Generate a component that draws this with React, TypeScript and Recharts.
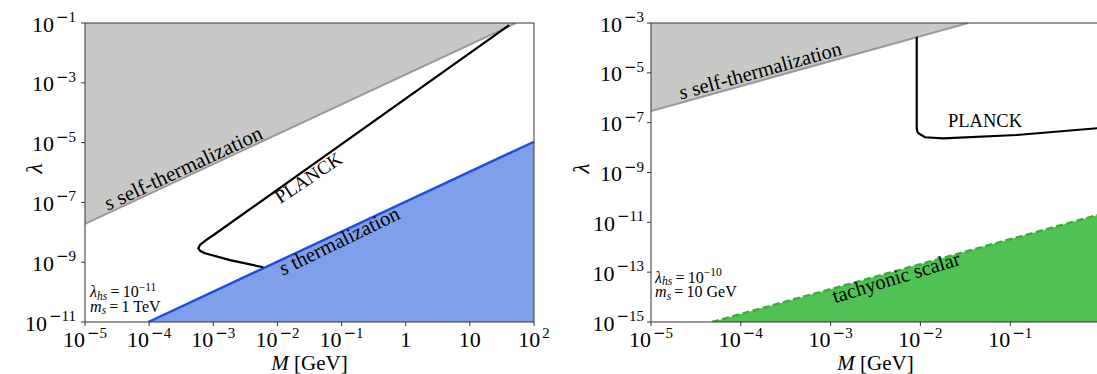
import React from 'react';
import { ComposedChart, Area, Line, XAxis, YAxis, ReferenceLine, ReferenceDot, Label } from 'recharts';

const FONT = '"Liberation Serif", "DejaVu Serif", serif';
const MINUS_FONT = '"DejaVu Serif", serif';
const MINUS = '\u2212';

// left panel: lambda_hs = 1e-11, m_s = 1 TeV
const leftXTicks = [1e-5, 1e-4, 1e-3, 1e-2, 1e-1, 1, 10, 100];
const leftYTicks = [1e-11, 1e-9, 1e-7, 1e-5, 1e-3, 1e-1];
const leftSelfM = [1e-5, 52.5];
const leftSelfLam = [1.9e-8, 1e-1];
const leftThermM = [9.7e-5, 100];
const leftThermLam = [1e-11, 1.07e-5];
const leftPlanckM = [41, 1.05e-3, 7.6e-4, 6.2e-4, 5.85e-4, 6.3e-4, 7.43e-4, 1.82e-3, 6.03e-3];
const leftPlanckLam = [8.5e-2, 8.6e-9, 5.4e-9, 3.76e-9, 2.92e-9, 2.35e-9, 2.0e-9, 1.17e-9, 6.76e-10];

// right panel: lambda_hs = 1e-10, m_s = 10 GeV
const rightXTicks = [1e-5, 1e-4, 1e-3, 1e-2, 1e-1];
const rightYTicks = [1e-15, 1e-13, 1e-11, 1e-9, 1e-7, 1e-5, 1e-3];
const rightSelfM = [1e-5, 0.0339];
const rightSelfLam = [2.95e-7, 1e-3];
const rightTachM = [4.8e-5, 1];
const rightTachLam = [1e-15, 2.1e-11];
const rightPlanckM = [9.1e-3, 9.1e-3, 9.2e-3, 9.5e-3, 0.01125, 0.018, 0.118, 1];
const rightPlanckLam = [2.8e-4, 6.9e-8, 4.6e-8, 3.75e-8, 2.59e-8, 2.36e-8, 3.2e-8, 6.1e-8];

const zip = (xs: number[], ys: number[]) => xs.map((x, i) => ({ x, y: ys[i] }));

function powParts(v: number, plainSmall: boolean) {
  const e = Math.round(Math.log10(v));
  if (plainSmall && e === 0) return { base: '1', neg: false, exp: '' };
  if (plainSmall && e === 1) return { base: '10', neg: false, exp: '' };
  return { base: '10', neg: e < 0, exp: String(Math.abs(e)) };
}

// 10^n with a math-style superscript
const powSpans = (v: number, plainSmall: boolean) => {
  const { base, neg, exp } = powParts(v, plainSmall);
  return (
    <>
      <tspan fontSize={22}>{base}</tspan>
      {exp && neg && <tspan fontSize={15} dx={2} dy={-9.5} fontFamily={MINUS_FONT}>{MINUS}</tspan>}
      {exp && <tspan fontSize={15} dx={neg ? 0 : 2} dy={neg ? 0 : -9.5}>{exp}</tspan>}
    </>
  );
};

const makeXTick = (plainSmall: boolean) => (props: any) => {
  const { x, y, payload } = props;
  return (
    <text x={x} y={y + 19} textAnchor="middle" fontFamily={FONT} fill="#000">
      {powSpans(payload.value, plainSmall)}
    </text>
  );
};

const makeYTick = (shift: number) => (props: any) => {
  const { x, y, payload } = props;
  return (
    <text x={x + shift} y={y + 8.5} textAnchor="end" fontFamily={FONT} fill="#000">
      {powSpans(payload.value, false)}
    </text>
  );
};

const note = (content: React.ReactNode, angle: number, size = 20, anchor = 'middle') => (props: any) => {
  const vb = props.viewBox;
  return (
    <text
      transform={`translate(${vb.x},${vb.y}) rotate(${angle})`}
      textAnchor={anchor}
      fontFamily={FONT}
      fontSize={size}
      fill="#000"
    >
      {content}
    </text>
  );
};

const paramNote = (lam: string, ms: string) => (props: any) => {
  const vb = props.viewBox;
  return (
    <g fontFamily={FONT} fontSize={16} fill="#000">
      <text x={vb.x} y={vb.y}>
        <tspan fontStyle="italic">λ</tspan>
        <tspan fontStyle="italic" fontSize={11.5} dy={2.5}>hs</tspan>
        <tspan dy={-2.5}>{'\u2009=\u200910'}</tspan>
        <tspan fontSize={11.5} dy={-6.5}>{lam}</tspan>
      </text>
      <text x={vb.x} y={vb.y + 14.5}>
        <tspan fontStyle="italic">m</tspan>
        <tspan fontStyle="italic" fontSize={11.5} dy={2.5}>s</tspan>
        <tspan dy={-2.5}>{'\u2009=\u2009' + ms}</tspan>
      </text>
    </g>
  );
};

const xTitle = (props: any) => {
  const vb = props.viewBox;
  return (
    <text x={vb.x + vb.width / 2} y={vb.y + 48} textAnchor="middle" fontFamily={FONT} fontSize={21} fill="#000">
      <tspan fontStyle="italic">M</tspan>
      <tspan> [GeV]</tspan>
    </text>
  );
};

const yTitle = (offset: number) => (props: any) => {
  const vb = props.viewBox;
  return (
    <text
      transform={`translate(${vb.x + offset},${vb.y + vb.height / 2 - 4}) rotate(-90)`}
      textAnchor="middle"
      fontFamily={FONT}
      fontSize={23}
      fontStyle="italic"
      fill="#000"
    >
      λ
    </text>
  );
};

const AXIS = '#333';

export default function App() {
  return (
    <div style={{ position: 'absolute', left: 0, top: 0, width: 1097, height: 374, overflow: 'hidden', background: '#fff' }}>
      <div style={{ position: 'absolute', left: 0, top: 0 }}>
        <ComposedChart width={560} height={374} margin={{ top: 23, right: 26, bottom: 0, left: 0 }}>
          <XAxis
            dataKey="x"
            type="number"
            scale="log"
            domain={[1e-5, 100]}
            allowDataOverflow
            ticks={leftXTicks}
            interval={0}
            height={52}
            tickSize={4}
            tickMargin={2}
            stroke={AXIS}
            tick={makeXTick(true)}
          >
            <Label content={xTitle} />
          </XAxis>
          <YAxis
            type="number"
            scale="log"
            domain={[1e-11, 1e-1]}
            allowDataOverflow
            ticks={leftYTicks}
            interval={0}
            width={85}
            tickSize={4}
            tickMargin={2}
            stroke={AXIS}
            tick={makeYTick(-3)}
          >
            <Label content={yTitle(42)} />
          </YAxis>
          <Area data={zip(leftSelfM, leftSelfLam)} dataKey="y" type="linear" baseValue={1e-1} stroke="#999999" strokeWidth={2} fill="#c8c9c7" fillOpacity={1} isAnimationActive={false} dot={false} activeDot={false} />
          <Area data={zip(leftThermM, leftThermLam)} dataKey="y" type="linear" baseValue={1e-11} stroke="#1b4fdc" strokeWidth={2.4} fill="#7f9feb" fillOpacity={1} isAnimationActive={false} dot={false} activeDot={false} />
          <Line data={zip(leftPlanckM, leftPlanckLam)} dataKey="y" type="linear" stroke="#000" strokeWidth={2.2} dot={false} activeDot={false} isAnimationActive={false} />
          <ReferenceLine y={1e-1} stroke={AXIS} strokeWidth={1} />
          <ReferenceLine x={100} stroke={AXIS} strokeWidth={1} />
          <ReferenceDot x={3.76e-4} y={8.6e-7} r={0} fill="none" stroke="none"
            label={note(<><tspan fontStyle="italic">s</tspan><tspan> self-thermalization</tspan></>, -25, 21)} />
          <ReferenceDot x={0.0346} y={4.46e-7} r={0} fill="none" stroke="none" label={note('PLANCK', -33.5, 19)} />
          <ReferenceDot x={0.1016} y={3.22e-9} r={0} fill="none" stroke="none"
            label={note(<><tspan fontStyle="italic">s</tspan><tspan> thermalization</tspan></>, -26, 20.5)} />
          <ReferenceDot x={1.2e-5} y={6.6e-11} r={0} fill="none" stroke="none" label={paramNote(MINUS + '11', '1 TeV')} />
        </ComposedChart>
      </div>
      <div style={{ position: 'absolute', left: 560, top: 0 }}>
        <ComposedChart width={560} height={374} margin={{ top: 23, right: 20, bottom: 0, left: 0 }}>
          <XAxis
            dataKey="x"
            type="number"
            scale="log"
            domain={[1e-5, 1]}
            allowDataOverflow
            ticks={rightXTicks}
            interval={0}
            height={52}
            tickSize={4}
            tickMargin={2}
            stroke={AXIS}
            tick={makeXTick(false)}
          >
            <Label content={xTitle} />
          </XAxis>
          <YAxis
            type="number"
            scale="log"
            domain={[1e-15, 1e-3]}
            allowDataOverflow
            ticks={rightYTicks}
            interval={0}
            width={91}
            tickSize={4}
            tickMargin={2}
            stroke={AXIS}
            tick={makeYTick(-1)}
          >
            <Label content={yTitle(29)} />
          </YAxis>
          <Area data={zip(rightSelfM, rightSelfLam)} dataKey="y" type="linear" baseValue={1e-3} stroke="#999999" strokeWidth={2} fill="#c8c9c7" fillOpacity={1} isAnimationActive={false} dot={false} activeDot={false} />
          <Area data={zip(rightTachM, rightTachLam)} dataKey="y" type="linear" baseValue={1e-15} stroke="#35b035" strokeWidth={2.4} strokeDasharray="7 3.5" fill="#50c254" fillOpacity={1} isAnimationActive={false} dot={false} activeDot={false} />
          <Line data={zip(rightPlanckM, rightPlanckLam)} dataKey="y" type="linear" stroke="#000" strokeWidth={2.2} dot={false} activeDot={false} isAnimationActive={false} />
          <ReferenceLine y={1e-3} stroke={AXIS} strokeWidth={1} />
          <ReferenceLine x={1} stroke={AXIS} strokeWidth={1} />
          <ReferenceDot x={1.72e-4} y={6.8e-6} r={0} fill="none" stroke="none"
            label={note(<><tspan fontStyle="italic">s</tspan><tspan> self-thermalization</tspan></>, -15.5, 20.5)} />
          <ReferenceDot x={0.0524} y={6.7e-8} r={0} fill="none" stroke="none" label={note('PLANCK', 0, 18.5)} />
          <ReferenceDot x={5.64e-3} y={3.37e-14} r={0} fill="none" stroke="none" label={note('tachyonic scalar', -17, 20.5)} />
          <ReferenceDot x={1.11e-5} y={3.8e-14} r={0} fill="none" stroke="none" label={paramNote(MINUS + '10', '10 GeV')} />
        </ComposedChart>
      </div>
    </div>
  );
}
